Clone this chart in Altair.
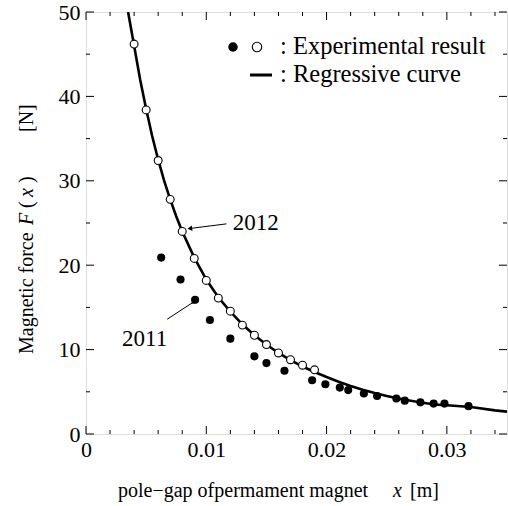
import altair as alt
import pandas as pd

# ---- data ----
x_2012 = [0.004, 0.005, 0.006, 0.007, 0.008, 0.009, 0.010, 0.011, 0.012, 0.013,
          0.014, 0.015, 0.016, 0.017, 0.018, 0.019]
f_2012 = [46.2, 38.4, 32.4, 27.8, 24.0, 20.8, 18.2, 16.1, 14.55, 12.9,
          11.7, 10.6, 9.6, 8.8, 8.15, 7.6]

x_2011 = [0.00625, 0.00786, 0.00907, 0.0103, 0.0120, 0.0140, 0.0150, 0.0165,
          0.0188, 0.0199, 0.0211, 0.0218, 0.0231, 0.0242, 0.0258, 0.0265,
          0.0278, 0.0289, 0.0298, 0.0318]
f_2011 = [20.9, 18.3, 15.9, 13.5, 11.3, 9.2, 8.4, 7.5,
          6.37, 5.9, 5.5, 5.2, 4.8, 4.5, 4.2, 3.95,
          3.75, 3.6, 3.6, 3.3]

curve_x = [0.0035, 0.004, 0.0045, 0.005, 0.0055, 0.006, 0.0065, 0.007, 0.0075,
           0.008, 0.009, 0.010, 0.011, 0.012, 0.013, 0.014, 0.015, 0.016,
           0.017, 0.018, 0.019, 0.020, 0.021, 0.022, 0.023, 0.024, 0.025,
           0.026, 0.027, 0.028, 0.029, 0.030, 0.032, 0.034, 0.035]
curve_f = [50.0, 46.0, 42.0, 38.5, 35.3, 32.5, 30.0, 27.8, 25.8,
           24.0, 20.9, 18.3, 16.2, 14.5, 13.0, 11.7, 10.6, 9.6,
           8.75, 8.0, 7.35, 6.75, 6.2, 5.7, 5.25, 4.85, 4.5,
           4.2, 3.95, 3.7, 3.5, 3.4, 3.2, 2.8, 2.65]

x_major = [0.0, 0.01, 0.02, 0.03]
x_minor = [0.002, 0.004, 0.006, 0.008, 0.012, 0.014, 0.016, 0.018,
           0.022, 0.024, 0.026, 0.028, 0.032, 0.034]
y_major = [0, 10, 20, 30, 40, 50]
y_minor = [5, 15, 25, 35, 45]

ann_text = ["2012", "2011"]
ann_tx = [0.0122, 0.0030]
ann_ty = [25.0, 11.2]
arrow_x1 = [0.01168, 0.00675]
arrow_y1 = [24.9, 13.6]
arrow_x2 = [0.00863, 0.0089]
arrow_y2 = [24.35, 15.6]
arrow_angle = [353, 327]

W, H = 421, 422
FONT = "Liberation Serif, Times New Roman, serif"

xs = alt.Scale(domain=[0, 0.035], nice=False, zero=False)
ys = alt.Scale(domain=[0, 50], nice=False, zero=False)

df12 = pd.DataFrame({"x": x_2012, "f": f_2012})
df11 = pd.DataFrame({"x": x_2011, "f": f_2011})
dfc = pd.DataFrame({"x": curve_x, "f": curve_f})

base_axes = alt.Chart(dfc).mark_line(color="black", strokeWidth=2.6, clip=True).encode(
    x=alt.X("x:Q", scale=xs,
            axis=alt.Axis(values=x_major, format="~g", title=None, ticks=False,
                          domain=False, grid=False, labelFont=FONT, labelFontSize=22,
                          labelColor="black", labelPadding=5, labelFlush=False)),
    y=alt.Y("f:Q", scale=ys,
            axis=alt.Axis(values=y_major, title=None, ticks=False, domain=False,
                          grid=False, labelFont=FONT, labelFontSize=22,
                          labelColor="black", labelPadding=6, labelFlush=False)),
)

filled = alt.Chart(df11).mark_point(shape="circle", filled=True, color="black", size=66,
                                    opacity=1).encode(x="x:Q", y="f:Q")
opened = alt.Chart(df12).mark_point(shape="circle", filled=True, fill="white", stroke="black",
                                    strokeWidth=1.1, size=62, opacity=1, fillOpacity=1,
                                    strokeOpacity=1).encode(x="x:Q", y="f:Q")

# inward ticks
dxM = pd.DataFrame({"v": x_major})
dxm = pd.DataFrame({"v": x_minor})
dyM = pd.DataFrame({"v": y_major})
dym = pd.DataFrame({"v": y_minor})

def xt(df, ln, top):
    if top:
        return alt.Chart(df).mark_rule(color="black", strokeWidth=1).encode(
            x=alt.X("v:Q", scale=xs), y=alt.value(0), y2=alt.value(ln))
    return alt.Chart(df).mark_rule(color="black", strokeWidth=1).encode(
        x=alt.X("v:Q", scale=xs), y=alt.value(H), y2=alt.value(H - ln))

def yt(df, ln, right):
    if right:
        return alt.Chart(df).mark_rule(color="black", strokeWidth=1).encode(
            y=alt.Y("v:Q", scale=ys), x=alt.value(W), x2=alt.value(W - ln))
    return alt.Chart(df).mark_rule(color="black", strokeWidth=1).encode(
        y=alt.Y("v:Q", scale=ys), x=alt.value(0), x2=alt.value(ln))

ticks = [xt(dxM, 8, False), xt(dxM, 8, True), xt(dxm, 4, False), xt(dxm, 4, True),
         yt(dyM, 8, False), yt(dyM, 8, True), yt(dym, 4, False), yt(dym, 4, True)]

# annotations
dann = pd.DataFrame({"t": ann_text, "x": ann_tx, "y": ann_ty})
ann = alt.Chart(dann).mark_text(font=FONT, fontSize=23, align="left", baseline="middle",
                                color="black").encode(x="x:Q", y="y:Q", text="t:N")
darr = pd.DataFrame({"x1": arrow_x1, "y1": arrow_y1, "x2": arrow_x2, "y2": arrow_y2,
                     "a": arrow_angle})
arr = alt.Chart(darr).mark_rule(color="black", strokeWidth=1).encode(
    x="x1:Q", y="y1:Q", x2="x2:Q", y2="y2:Q")
head = alt.Chart(darr).mark_point(shape="triangle-left", filled=True, color="black",
                                  size=30, opacity=1).encode(
    x="x2:Q", y="y2:Q", angle=alt.Angle("a:Q", scale=None))

# legend (hand-drawn as in the figure)
leg_dot = pd.DataFrame({"k": ["a"]})
r1, r2 = 35, 63
lg = [
    alt.Chart(leg_dot).mark_point(shape="circle", filled=True, color="black", size=90,
                                  opacity=1).encode(x=alt.value(147), y=alt.value(r1)),
    alt.Chart(leg_dot).mark_point(shape="circle", filled=True, fill="white", stroke="black",
                                  strokeWidth=1.1, size=90, opacity=1).encode(
        x=alt.value(171), y=alt.value(r1)),
    alt.Chart(leg_dot).mark_rule(color="black", strokeWidth=3).encode(
        x=alt.value(164), x2=alt.value(186), y=alt.value(r2)),
    alt.Chart(leg_dot).mark_text(font=FONT, fontSize=24.5, align="left", baseline="middle",
                                 color="black").encode(x=alt.value(194), y=alt.value(r1),
                                                       text=alt.value(":  Experimental result")),
    alt.Chart(leg_dot).mark_text(font=FONT, fontSize=24.5, align="left", baseline="middle",
                                 color="black").encode(x=alt.value(194), y=alt.value(r2),
                                                       text=alt.value(":  Regressive curve")),
]

# axis titles built from pieces (regular + italic)
def txt(s, x, y, italic=False, angle=0):
    kw = dict(font=FONT, fontSize=20, align="left", baseline="alphabetic", color="black")
    if italic:
        kw["fontStyle"] = "italic"
    if angle:
        kw["angle"] = angle
        kw["baseline"] = "middle"
    return alt.Chart(leg_dot).mark_text(**kw).encode(x=alt.value(x), y=alt.value(y),
                                                     text=alt.value(s))

titles = [
    txt("pole\u2212gap ofpermament magnet", 32, 485),
    txt("x", 307, 485, italic=True),
    txt("[m]", 324, 485),
    txt("Magnetic force", -59, 342, angle=270),
    txt("F", -59, 213, angle=270, italic=True),
    txt("(", -59, 196, angle=270),
    txt("x", -59, 185, angle=270, italic=True),
    txt(")", -59, 171, angle=270),
    txt("[N]", -59, 120, angle=270),
]

chart = alt.layer(base_axes, filled, opened, *ticks, arr, head, ann, *lg, *titles).properties(
    width=W, height=H,
    autosize=alt.AutoSizeParams(type="none"),
    padding={"left": 86, "top": 12, "right": 1, "bottom": 72},
).configure_view(stroke="black", strokeWidth=1.5).configure(background="white")

chart.save("out.html", embed_options={"renderer": "svg", "actions": False})
